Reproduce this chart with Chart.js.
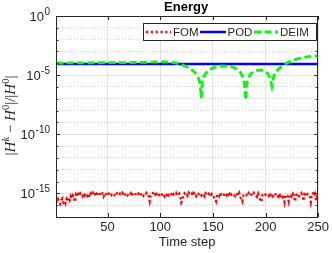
<!DOCTYPE html>
<html>
<head>
<meta charset="utf-8">
<script src="https://cdn.jsdelivr.net/npm/chart.js@4/dist/chart.umd.min.js"></script>
<style>
  html, body { margin: 0; padding: 0; background: #fff; }
  #wrap { width: 332px; height: 253px; }
</style>
</head>
<body>
<div id="wrap"><canvas id="energy-chart" width="332" height="253"></canvas></div>
<script>
// --- data ---
const xTicks = [50, 100, 150, 200, 250];
const yTickExps = [0, -1, -2, -3, -4, -5, -6, -7, -8, -9, -10, -11, -12, -13, -14, -15, -16, -17];
const yLabelExps = [0, -5, -10, -15];

// FOM relative energy error, one value per time step 1..250
const fomValues = [
  2.2e-16, 1.5e-16, 3.0e-16, 1.8e-16, 1.3e-16, 2.6e-16, 3.6e-16, 1.7e-16, 2.4e-16, 1.4e-16,
  3.2e-16, 2.0e-16, 4.6e-16, 2.7e-16, 5.6e-16, 3.6e-16, 6.6e-16, 4.3e-16, 1.9e-16, 7.6e-16,
  5.1e-16, 8.7e-16, 6.2e-16, 9.8e-16, 7.0e-16, 5.4e-16, 9.1e-16, 6.6e-16, 1.05e-15, 7.8e-16,
  5.9e-16, 8.9e-16, 4.8e-16, 9.6e-16, 7.2e-16, 1.10e-15, 6.4e-16, 8.3e-16, 5.7e-16, 9.3e-16,
  7.5e-16, 1.08e-15, 6.1e-16, 8.6e-16, 9.9e-16, 5.3e-16, 8.0e-16, 1.14e-15, 7.1e-16, 6.3e-16,
  9.5e-16, 8.2e-16, 1.06e-15, 6.8e-16, 7.9e-16, 9.1e-16, 5.6e-16, 8.8e-16, 1.02e-15, 7.4e-16,
  6.5e-16, 9.7e-16, 8.4e-16, 1.12e-15, 7.7e-16, 5.9e-16, 9.0e-16, 1.04e-15, 6.9e-16, 8.5e-16,
  7.3e-16, 1.00e-15, 5.5e-16, 8.7e-16, 9.4e-16, 1.16e-15, 6.7e-16, 8.1e-16, 9.8e-16, 7.0e-16,
  5.8e-16, 1.03e-15, 8.9e-16, 6.4e-16, 9.2e-16, 7.6e-16, 1.11e-15, 8.3e-16, 6.0e-16, 2.2e-16,
  7.9e-16, 9.6e-16, 1.07e-15, 6.6e-16, 8.4e-16, 5.2e-16, 9.9e-16, 1.15e-15, 7.2e-16, 8.8e-16,
  6.2e-16, 1.01e-15, 8.6e-16, 5.7e-16, 9.3e-16, 7.4e-16, 1.18e-15, 6.9e-16, 8.0e-16, 1.05e-15,
  7.7e-16, 5.4e-16, 9.0e-16, 8.2e-16, 1.09e-15, 6.5e-16, 7.8e-16, 9.5e-16, 4.9e-16, 1.7e-16,
  2.8e-16, 8.5e-16, 1.02e-15, 7.1e-16, 9.1e-16, 6.3e-16, 1.13e-15, 8.7e-16, 7.5e-16, 9.8e-16,
  6.0e-16, 1.06e-15, 8.1e-16, 5.8e-16, 9.4e-16, 7.3e-16, 1.10e-15, 8.9e-16, 6.6e-16, 9.7e-16,
  7.9e-16, 5.5e-16, 1.04e-15, 8.3e-16, 6.9e-16, 9.2e-16, 7.0e-16, 5.2e-16, 8.6e-16, 6.4e-16,
  4.7e-16, 3.6e-16, 2.2e-16, 7.5e-16, 9.0e-16, 6.1e-16, 1.08e-15, 8.0e-16, 7.2e-16, 5.6e-16,
  9.6e-16, 8.4e-16, 6.7e-16, 1.12e-15, 7.8e-16, 9.3e-16, 6.0e-16, 8.8e-16, 1.01e-15, 7.4e-16,
  5.9e-16, 9.9e-16, 8.2e-16, 6.5e-16, 1.05e-15, 4.8e-16, 3.4e-16, 2.1e-16, 6.8e-16, 8.7e-16,
  9.4e-16, 7.1e-16, 5.7e-16, 1.07e-15, 8.5e-16, 6.3e-16, 9.8e-16, 7.6e-16, 1.10e-15, 8.0e-16,
  6.6e-16, 5.1e-16, 9.1e-16, 4.2e-16, 3.0e-16, 1.9e-16, 6.9e-16, 8.3e-16, 1.03e-15, 7.7e-16,
  9.6e-16, 8.1e-16, 6.2e-16, 1.09e-15, 7.3e-16, 9.0e-16, 5.8e-16, 8.6e-16, 6.7e-16, 1.00e-15,
  7.5e-16, 5.3e-16, 9.4e-16, 6.4e-16, 8.1e-16, 5.2e-16, 8.0e-16, 2.0e-16, 6.5e-16, 7.8e-16,
  6.1e-16, 2.2e-16, 7.4e-16, 8.8e-16, 5.6e-16, 9.5e-16, 7.0e-16, 2.0e-16, 6.4e-16, 8.2e-16,
  9.9e-16, 5.9e-16, 7.6e-16, 1.04e-15, 6.8e-16, 2.3e-16, 8.5e-16, 7.1e-16, 5.5e-16, 9.0e-16,
  7.8e-16, 6.2e-16, 1.9e-16, 8.9e-16, 1.02e-15, 6.6e-16, 9.3e-16, 2.6e-16, 8.4e-16, 1.15e-15
];

const podSteps  = [1, 50, 100, 150, 200, 250];
const podValues = [8.7e-5, 8.7e-5, 8.7e-5, 8.7e-5, 8.7e-5, 8.7e-5];

const deimSteps = [
  1, 15, 30, 50, 70, 85, 95, 100, 106, 112, 116, 120, 124, 128, 131, 134, 136, 137, 138, 139,
  140, 141, 143, 146, 149, 153, 158, 163, 168, 171, 174, 176, 178, 179, 180, 181,
  182, 183, 185, 188, 192, 196, 199, 202, 204, 205, 206,
  207, 208, 210, 213, 216, 218, 222, 227, 232, 237, 243, 250
];
const deimValues = [
  1.05e-4, 1.07e-4, 1.1e-4, 1.12e-4, 1.15e-4, 1.2e-4, 1.3e-4, 1.33e-4, 1.3e-4, 1.17e-4,
  1.0e-4, 8.0e-5, 5.7e-5, 3.8e-5, 2.4e-5, 1.3e-5, 6.5e-6, 3.5e-6, 1.5e-6, 1.2e-7,
  3.5e-6, 7.0e-6, 1.4e-5, 2.6e-5, 3.8e-5, 5.0e-5, 5.9e-5, 5.8e-5, 5.1e-5, 4.0e-5,
  2.7e-5, 1.8e-5, 8.0e-6, 4.5e-6, 1.5e-6, 8.0e-8,
  1.5e-6, 4.0e-6, 1.0e-5, 1.9e-5, 2.5e-5, 2.7e-5, 2.3e-5, 1.4e-5, 6.0e-6, 2.8e-6, 1.2e-6,
  4.0e-6, 1.0e-5, 2.0e-5, 3.8e-5, 6.0e-5, 8.2e-5, 1.3e-4, 1.9e-4, 2.6e-4, 3.2e-4, 3.8e-4, 4.3e-4
];

// --- styling ---
const SANS = '"Liberation Sans", Arial, Helvetica, sans-serif';
const SERIF = '"Liberation Serif", "Times New Roman", serif';
const AXIS_COLOR = '#262626';
const FOM_DASH = [2.2, 2.6];
const DEIM_DASH = [7, 3.5];

function isLabelExp(v) {
  const e = Math.round(Math.log10(v));
  return yLabelExps.includes(e);
}

// box, inner ticks, y labels (with superscripts), legend, title, y-axis label
const matlabLook = {
  id: 'matlabLook',
  afterDatasetsDraw(chart) {
    const { ctx, chartArea: a, scales: { x, y } } = chart;
    ctx.save();
    ctx.strokeStyle = AXIS_COLOR;
    ctx.lineWidth = 1;
    ctx.setLineDash([]);
    ctx.strokeRect(Math.round(a.left) + 0.5, Math.round(a.top) + 0.5,
                   Math.round(a.right - a.left) - 1, Math.round(a.bottom - a.top));

    ctx.beginPath();
    xTicks.forEach(t => {
      const px = Math.round(x.getPixelForValue(t)) + 0.5;
      ctx.moveTo(px, a.bottom); ctx.lineTo(px, a.bottom - 4);
      ctx.moveTo(px, a.top); ctx.lineTo(px, a.top + 4);
    });
    yTickExps.forEach(e => {
      const py = Math.round(y.getPixelForValue(Math.pow(10, e))) + 0.5;
      const len = yLabelExps.includes(e) ? 4 : 2.5;
      ctx.moveTo(a.left, py); ctx.lineTo(a.left + len, py);
      ctx.moveTo(a.right, py); ctx.lineTo(a.right - len, py);
    });
    ctx.stroke();

    // y tick labels 10^e
    ctx.fillStyle = AXIS_COLOR;
    ctx.textBaseline = 'alphabetic';
    ctx.textAlign = 'left';
    yLabelExps.forEach(e => {
      const py = y.getPixelForValue(Math.pow(10, e));
      const sup = e === 0 ? '0' : '-' + Math.abs(e);
      ctx.font = '10px ' + SANS;
      const supW = ctx.measureText(sup).width;
      ctx.font = '13px ' + SANS;
      const baseW = ctx.measureText('10').width;
      const right = a.left - 6;
      ctx.fillText('10', right - supW - baseW - 0.5, py + 4.5);
      ctx.font = '10px ' + SANS;
      ctx.fillText(sup, right - supW, py - 1.5);
    });

    // legend box
    const lx = 143, ly = 23, lw = 173, lh = 17;
    ctx.fillStyle = '#fff';
    ctx.fillRect(lx, ly, lw, lh);
    ctx.strokeStyle = AXIS_COLOR;
    ctx.lineWidth = 1;
    ctx.strokeRect(lx + 0.5, ly + 0.5, lw, lh);
    const cy = ly + lh / 2 + 0.5;
    const items = [
      { ds: chart.data.datasets[2], x0: 146, x1: 171, tx: 173 },
      { ds: chart.data.datasets[1], x0: 200, x1: 226, tx: 227.5 },
      { ds: chart.data.datasets[0], x0: 254, x1: 278, tx: 280 }
    ];
    items.forEach(it => {
      ctx.beginPath();
      ctx.strokeStyle = it.ds.borderColor;
      ctx.lineWidth = it.ds.borderWidth;
      ctx.setLineDash(it.ds.borderDash || []);
      ctx.moveTo(it.x0, cy); ctx.lineTo(it.x1, cy);
      ctx.stroke();
      ctx.setLineDash([]);
      ctx.fillStyle = AXIS_COLOR;
      ctx.font = '11.5px ' + SANS;
      ctx.textBaseline = 'middle';
      ctx.fillText(it.ds.label, it.tx, cy + 0.5);
    });
    ctx.restore();
  },
  afterDraw(chart) {
    const { ctx, chartArea: a } = chart;
    ctx.save();
    ctx.fillStyle = '#000';
    ctx.font = 'bold 13px ' + SANS;
    ctx.textAlign = 'center';
    ctx.textBaseline = 'alphabetic';
    ctx.fillText('Energy', (a.left + a.right) / 2 - 1, 11);

    // y-axis label |H^k - H^0| / |H^0|
    const big = '15px ' + SERIF, ital = 'italic 15px ' + SERIF, small = 'italic 10.5px ' + SERIF, smallUp = '10.5px ' + SERIF;
    const parts = [
      { t: '|', f: big }, { t: 'H', f: ital }, { t: 'k', f: small, dy: -6 },
      { t: ' \u2212 ', f: big }, { t: 'H', f: ital }, { t: '0', f: smallUp, dy: -6 },
      { t: '|/|', f: big }, { t: 'H', f: ital }, { t: '0', f: smallUp, dy: -6 }, { t: '|', f: big }
    ];
    let total = 0;
    parts.forEach(p => { ctx.font = p.f; p.w = ctx.measureText(p.t).width; total += p.w; });
    ctx.translate(15, (a.top + a.bottom) / 2 - 1);
    ctx.rotate(-Math.PI / 2);
    ctx.fillStyle = AXIS_COLOR;
    ctx.textAlign = 'left';
    let cx = -total / 2;
    parts.forEach(p => {
      ctx.font = p.f;
      ctx.fillText(p.t, cx, p.dy || 0);
      cx += p.w;
    });
    ctx.restore();
  }
};

new Chart(document.getElementById('energy-chart'), {
  type: 'line',
  data: {
    datasets: [
      {
        label: 'DEIM',
        data: deimSteps.map((s, i) => ({ x: s, y: deimValues[i] })),
        borderColor: '#00ff00',
        borderWidth: 2.8,
        borderDash: DEIM_DASH,
        pointRadius: 0,
        order: 0
      },
      {
        label: 'POD',
        data: podSteps.map((s, i) => ({ x: s, y: podValues[i] })),
        borderColor: '#0000ff',
        borderWidth: 2.5,
        pointRadius: 0,
        order: 1
      },
      {
        label: 'FOM',
        data: fomValues.map((v, i) => ({ x: i + 1, y: v })),
        borderColor: '#ff0000',
        borderWidth: 2.3,
        borderDash: FOM_DASH,
        pointRadius: 0,
        order: 2
      }
    ]
  },
  options: {
    responsive: false,
    animation: false,
    devicePixelRatio: 1,
    layout: { padding: { top: 16, right: 12, left: 0, bottom: 0 } },
    plugins: {
      legend: { display: false },
      title: { display: false },
      tooltip: { enabled: false }
    },
    elements: { line: { tension: 0 } },
    scales: {
      x: {
        type: 'linear',
        min: 1,
        max: 250,
        afterBuildTicks: s => { s.ticks = xTicks.map(v => ({ value: v })); },
        afterFit: s => { s.height = 36; },
        ticks: { color: AXIS_COLOR, font: { family: SANS, size: 13 }, padding: 3, maxRotation: 0 },
        grid: { color: '#e2e2e2', lineWidth: 1, drawTicks: false },
        border: { display: false },
        title: { display: true, text: 'Time step', color: AXIS_COLOR, font: { family: SANS, size: 13 }, padding: { top: 0, bottom: 3 } }
      },
      y: {
        type: 'logarithmic',
        min: 1e-17,
        max: 1,
        afterBuildTicks: s => { s.ticks = yTickExps.map(e => ({ value: Math.pow(10, e) })); },
        afterFit: s => { s.width = 56; },
        ticks: { display: false },
        grid: {
          drawTicks: false,
          lineWidth: 1,
          color: c => isLabelExp(c.tick.value) ? '#e2e2e2' : '#cdcdcd'
        },
        border: {
          display: false,
          dash: c => (c.tick && !isLabelExp(c.tick.value)) ? [1, 2] : []
        }
      }
    }
  },
  plugins: [matlabLook]
});
</script>
</body>
</html>
